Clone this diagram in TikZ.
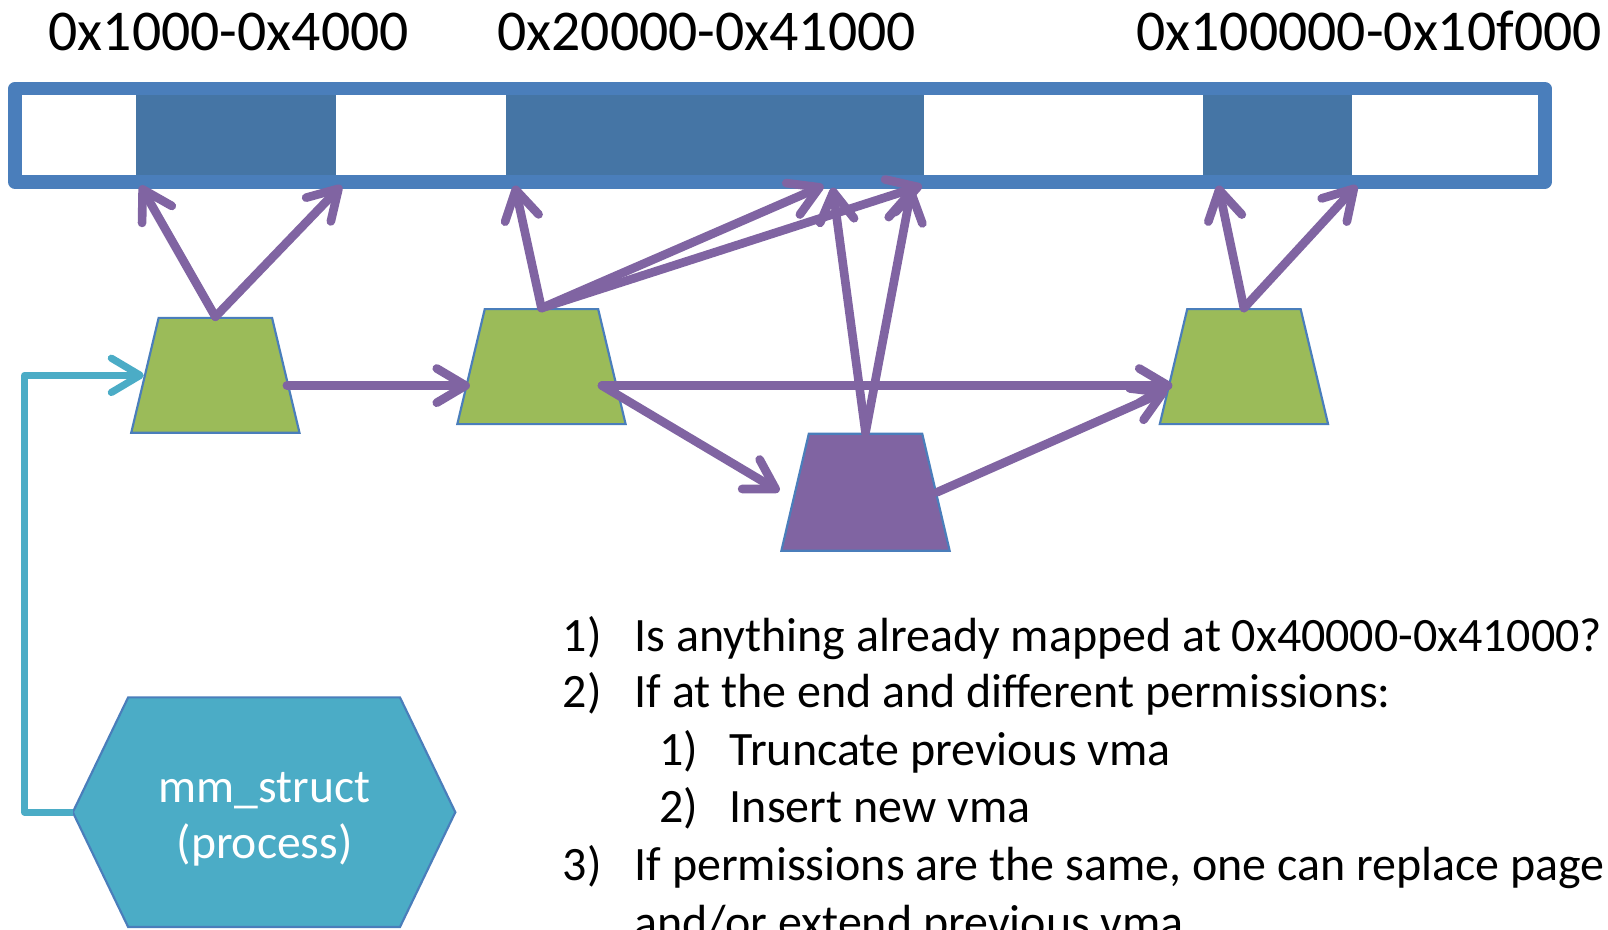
\documentclass[tikz,border=0pt]{standalone}
\usepackage{fontspec}
\setmainfont{Carlito}
\usetikzlibrary{positioning,shapes,arrows.meta,calc}

\definecolor{vmapurple}{RGB}{128,100,162}
\definecolor{vmagreen}{RGB}{155,187,89}
\definecolor{edgeblue}{RGB}{74,126,187}
\definecolor{blockblue}{RGB}{69,117,165}
\definecolor{mmcyan}{RGB}{75,172,198}

\begin{document}
\begin{tikzpicture}
  [
    x=0.01cm, y=-0.01cm,
    vma box/.style={trapezium, trapezium angle=76.4, trapezium stretches=true,
      minimum width=1.64cm, minimum height=1.12cm, inner sep=1pt,
      draw=edgeblue, line width=0.6pt, fill=vmagreen},
    vma arrow/.style={draw=vmapurple, line width=2.4pt, line cap=round,
      -{Straight Barb[length=8pt,width=9.5pt,round]}},
    mm arrow/.style={draw=mmcyan, line width=2pt, line join=round,
      -{Straight Barb[length=8pt,width=9.5pt,round]}},
    range label/.style={font=\fontsize{16}{18}\selectfont, anchor=base, inner sep=0pt},
    list text/.style={font=\fontsize{13.3}{16}\selectfont, anchor=base west, inner sep=0pt},
    mm text/.style={font=\fontsize{13.2}{15.6}\selectfont, text=white, align=center},
  ]

  \useasboundingbox (0,0) rectangle (1568,906);

  % address ranges
  \foreach \x/\txt [count=\i] in {223/0x1000-0x4000, 689/0x20000-0x41000, 1335/0x100000-0x10f000}
    \node[range label] (r\i) at (\x,49) {\txt};

  % address space bar
  \foreach \a/\b in {133/328, 493/901, 1173/1318}
    \fill[blockblue] (\a,93) rectangle (\b,172);
  \draw[edgeblue, line width=0.13cm, line join=round] (14.5,86.5) rectangle (1506.5,177.5);

  \coordinate (b1) at (137,181);
  \coordinate (b2) at (333,181);
  \coordinate (b3) at (502,181);
  \coordinate (b4) at (803,181);
  \coordinate (b5) at (812,183);
  \coordinate (b6) at (899,181);
  \coordinate (b7) at (889,183);
  \coordinate (b8) at (1188,181);
  \coordinate (b9) at (1323,181);

  % vmas
  \node[vma box] (v1) at (210,366) {};
  \node[vma box] (v2) at (528,357.5) {};
  \node[vma box] (v4) at (1213,357.5) {};
  \node[vma box, fill=vmapurple, minimum height=1.14cm] (vp) at (844,480) {};

  \coordinate (r0) at (0,376);
  \coordinate (j) at (587,376);
  \coordinate (pin) at (760,479);
  \coordinate (e4) at (1138,381);

  \foreach \t in {b1,b2} \draw[vma arrow] (v1.north) -- (\t);
  \foreach \t in {b3,b4,b6} \draw[vma arrow] (v2.north) -- (\t);
  \foreach \t in {b5,b7} \draw[vma arrow] (vp.north) -- (\t);
  \foreach \t in {b8,b9} \draw[vma arrow] (v4.north) -- (\t);

  \draw[vma arrow] (v1.east |- r0) -- (v2.west |- r0);
  \draw[vma arrow] (j) -- (v4.west |- r0);
  \draw[vma arrow] (j) -- (pin);
  \draw[vma arrow] (vp.east) -- (e4);

  % mm_struct
  \path[fill=mmcyan, draw=edgeblue, line width=0.6pt]
    (71,792) -- (125,680) -- (390,680) -- (444,792) -- (390,904) -- (125,904) -- cycle;
  \node[mm text] (mm) at (258,799) {mm\_struct\\(process)};
  \coordinate (mmw) at (71,792);
  \coordinate (bend) at (24,792);
  \draw[mm arrow] (mmw) -- (bend) |- (v1.west);

  % steps
  \node[list text] (n1) at (548,635) {1)};
  \node[list text] (s1) at (618,635) {Is anything already mapped at 0x40000-0x41000?};
  \node[list text] (n2) at (548,690) {2)};
  \node[list text] (s2) at (618,690) {If at the end and different permissions:};
  \node[list text] (n21) at (642,746) {1)};
  \node[list text] (s21) at (711,746) {Truncate previous vma};
  \node[list text] (n22) at (642,802) {2)};
  \node[list text] (s22) at (711,802) {Insert new vma};
  \node[list text] (n3) at (548,859) {3)};
  \node[list text] (s3) at (618,859) {If permissions are the same, one can replace page};
  \node[list text] (s3b) at (618,915) {and/or extend previous vma};

  %\draw (0,0) grid[step=100] (1568,906);

\end{tikzpicture}
\end{document}
